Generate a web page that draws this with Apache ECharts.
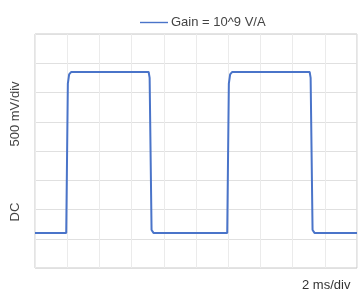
<!DOCTYPE html>
<html>
<head>
<meta charset="utf-8">
<script src="https://cdn.jsdelivr.net/npm/echarts@6/dist/echarts.min.js"></script>
<style>
  html, body { margin: 0; padding: 0; background: #fff; }
  #chart { width: 360px; height: 297px; }
</style>
</head>
<body>
<div id="chart"></div>
<script>
// time in divisions (2 ms/div), level in divisions (500 mV/div)
const timeDiv = [0, 0.97, 1.02, 1.06, 1.12, 3.53, 3.56, 3.62, 3.68, 5.97, 6.02, 6.06, 6.12, 8.53, 8.56, 8.62, 8.68, 10]
const levelDiv = [1.2, 1.2, 6.3, 6.62, 6.7, 6.7, 6.5, 1.3, 1.2, 1.2, 6.3, 6.62, 6.7, 6.7, 6.5, 1.3, 1.2, 1.2]
const seriesName = 'Gain = 10^9 V/A'
const yLabel = '500 mV/div'
const couplingLabel = 'DC'
const xLabel = '2 ms/div'

const chart = echarts.init(document.getElementById('chart'))
const font = 'Liberation Sans, Arial, sans-serif'

const option = {
  animation: false,
  backgroundColor: '#fff',
  legend: {
    top: 11,
    left: 135,
    itemWidth: 28,
    itemHeight: 10,
    itemGap: 4,
    textStyle: { fontFamily: font, fontSize: 13, color: '#444', padding: [0, 0, 0, -2] },
    data: [{ name: seriesName, icon: 'path://M0,4.3 L28,4.3 L28,5.7 L0,5.7 Z' }]
  },
  grid: { left: 35, right: 3, top: 34, bottom: 29, show: true, borderColor: '#c8c8c8', borderWidth: 1 },
  xAxis: {
    type: 'value',
    min: 0,
    max: 10,
    interval: 1,
    axisLine: { show: false },
    axisTick: { show: false },
    axisLabel: { show: false },
    splitLine: { show: true, lineStyle: { color: '#ebebeb', width: 1 } }
  },
  yAxis: {
    type: 'value',
    min: 0,
    max: 8,
    interval: 1,
    axisLine: { show: false },
    axisTick: { show: false },
    axisLabel: { show: false },
    splitLine: { show: true, lineStyle: { color: '#e0e0e0', width: 1 } }
  },
  graphic: [
    { type: 'text', x: 15, y: 114, rotation: Math.PI / 2, style: { text: yLabel, font: '13px ' + font, fill: '#444', align: 'center', verticalAlign: 'middle' } },
    { type: 'text', x: 15, y: 212, rotation: Math.PI / 2, style: { text: couplingLabel, font: '13px ' + font, fill: '#444', align: 'center', verticalAlign: 'middle' } },
    { type: 'text', x: 302, y: 285, style: { text: xLabel, font: '13px ' + font, fill: '#333', verticalAlign: 'middle' } }
  ],
  series: [{
    name: seriesName,
    type: 'line',
    data: timeDiv.map((t, i) => [t, levelDiv[i]]),
    symbol: 'none',
    lineStyle: { color: '#4a74c9', width: 2 },
    itemStyle: { color: '#4a74c9' }
  }]
}
chart.setOption(option)
</script>
</body>
</html>
